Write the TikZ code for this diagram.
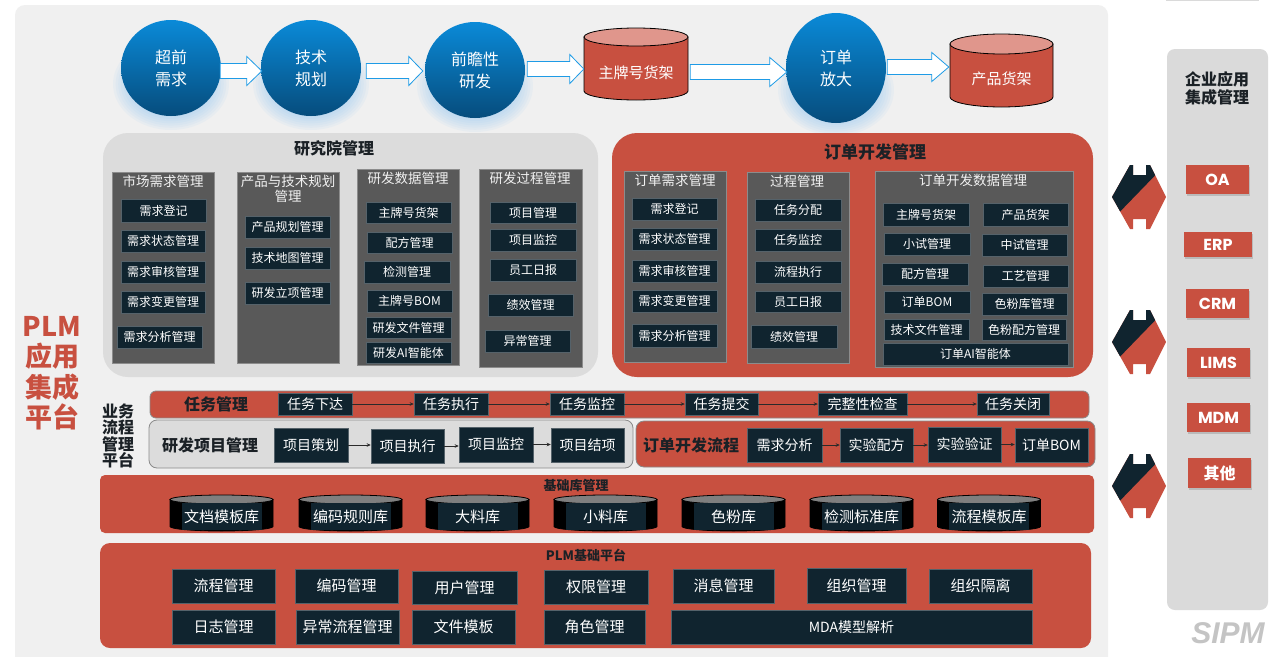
\documentclass[tikz,border=0pt]{standalone}
\usepackage{fontspec}
\setmainfont{Noto Sans CJK SC}
\newfontfamily\sipmfont{Liberation Sans}
\newfontfamily\popfont{Poppins}
\usetikzlibrary{arrows.meta,calc,shapes.geometric,shadows}
\definecolor{bgc}{HTML}{F0F0F0}
\definecolor{redc}{HTML}{C85040}
\definecolor{navy}{HTML}{10242F}
\definecolor{dgray}{HTML}{595959}
\definecolor{lgray}{HTML}{DCDCDC}
\definecolor{sideg}{HTML}{DADADA}
\definecolor{txtd}{HTML}{1B2126}
\definecolor{blueT}{HTML}{0A8AD8}
\definecolor{blueB}{HTML}{064C7C}
\definecolor{glowc}{HTML}{7DC0F2}
\definecolor{arrb}{HTML}{1E9BE6}
\definecolor{capred}{HTML}{E0968C}
\definecolor{capgray}{HTML}{7F7F7F}
\definecolor{itmb}{HTML}{55626A}
\definecolor{colb}{HTML}{8C8C8C}
\definecolor{coltxt}{HTML}{F2F2F2}
\definecolor{bandb}{HTML}{8A8A8A}
\definecolor{connc}{HTML}{2A2A2A}
\definecolor{sipmc}{HTML}{C4C4C4}
\newcommand{\fsz}[2]{\fontsize{#1}{#2}\selectfont}
\tikzset{
  itm/.style={fill=navy, draw=itmb, line width=0.5, text=white, inner sep=0, font=\fsz{12}{14}},
  bt/.style={font=\fsz{14}{16}},
  bb/.style={font=\fsz{15}{17}},
  coltitle/.style={text=coltxt, font=\fsz{13.5}{14.5}, align=center, inner sep=0},
  colst/.style={fill=dgray, draw=colb, line width=0.6},
  circ/.style={ellipse, minimum width=100, minimum height=96, inner sep=0, top color=blueT, bottom color=blueB, text=white, font=\fsz{16}{22}, align=center},
  cyltxt/.style={inner sep=0, text=white, font=\fsz{15}{17}},
  barrow/.style={fill=white, draw=arrb, line width=0.8},
  ptitle/.style={text=txtd, font=\bfseries\fsz{16}{18}, inner sep=0},
  bandr/.style={fill=redc, draw=bandb, line width=0.8, rounded corners=6},
  bandg/.style={fill=lgray, draw=bandb, line width=0.8, rounded corners=8},
  bandlbl/.style={text=txtd, font=\bfseries\fsz{16}{18}, inner sep=0},
  conn/.style={-{Stealth[length=4pt,width=3.5pt]}, line width=0.6, draw=connc},
  sideb/.style={fill=redc, text=white, font=\popfont\bfseries\fsz{16}{18}, inner sep=0,
    drop shadow={shadow xshift=1pt, shadow yshift=-1.5pt, opacity=0.35}},
}
\newcommand{\itm}[7][]{\node[itm,#1,minimum width={#5-#3},minimum height={#6-#4}] (#2) at ({(#3+#5)/2},{(#4+#6)/2}) {#7};}
\newcommand{\cylshape}[7]{%
  \filldraw[fill=#6,draw=black,line width=0.8] ({#1-#3/2},{#2+#5}) -- ({#1-#3/2},{#2+#4-#5}) arc[start angle=180,end angle=0,x radius={#3/2},y radius={#5}] -- ({#1+#3/2},{#2+#5}) -- cycle;
  \filldraw[fill=#7,draw=black,line width=0.8] (#1,{#2+#5}) ellipse[x radius={#3/2},y radius={#5}];}
\newcommand{\blockarrow}[3]{%
  \filldraw[barrow] ($(#1)+(0,7.5)$) -- ($(#1)+(0,-7.5)$) -- ($(#2|-#1)+(-#3,-7.5)$) -- ($(#2|-#1)+(-#3,-14.5)$) -- (#2|-#1) -- ($(#2|-#1)+(-#3,14.5)$) -- ($(#2|-#1)+(-#3,7.5)$) -- cycle;}
\newcommand{\libcyl}[3]{%
  \cylshape{#2}{495}{103}{36}{4.5}{black}{capgray}
  \node[itm, draw=none, minimum width=80, minimum height=27, font=\fsz{15}{17}] (#1) at (#2,516.5) {#3};}
\newcommand{\dblarrow}[1]{%
  \begin{scope}[shift={(1139,#1)}]
    \begin{scope}
    \clip (-27,0) -- (-9,-32) -- (-6,-32) -- (-6,-22) -- (7,-22) -- (7,-32) -- (11,-32) -- (27,0) -- (11,32) -- (7,32) -- (7,22) -- (-6,22) -- (-6,32) -- (-9,32) -- cycle;
    \fill[redc] (-30,-40) rectangle (30,40);
    \fill[navy] (-30,26) -- (30,-36) -- (30,-40) -- (-30,-40) -- cycle;
    \end{scope}
  \end{scope}}
\newcommand{\glow}[2]{%
  \foreach \k in {0,...,13} {\fill[glowc, fill opacity=0.07] (#1,{#2+16}) ellipse[x radius={58-2.6*\k}, y radius={46-2.2*\k}];}}
\begin{document}
\begin{tikzpicture}[x=1pt,y=-1pt]
\useasboundingbox (0,0) rectangle (1269,656);
\fill[white] (0,0) rectangle (1269,656);
\fill[bgc, rounded corners=10] (15,5) rectangle (1108,690);
\fill[sideg] (1166,-2) rectangle (1259,1.2);

% glows
\glow{171}{68}
\glow{311}{68}
\glow{475}{70}
\glow{836}{74}

% top flow
\node[circ] (c1) at (171,68) {超前\\需求};
\node[circ] (c2) at (311,68) {技术\\规划};
\node[circ] (c3) at (475,70) {前瞻性\\研发};
\node[circ, minimum height=110] (c4) at (836,68) {订单\\放大};
\cylshape{636}{28}{104}{72}{9}{redc}{capred}
\node[cyltxt, minimum width=104, minimum height=54] (m1) at (636,73) {主牌号货架};
\cylshape{1001.5}{34}{103}{73}{10}{redc}{capred}
\node[cyltxt, minimum width=103, minimum height=53] (m2) at (1001.5,79) {产品货架};

\coordinate (a1s) at ($(c1.east)+(-1,3)$); \coordinate (a1t) at ($(c2.west)+(1,3)$);
\blockarrow{a1s}{a1t}{15}
\coordinate (a2s) at ($(c2.east)+(5,3)$); \coordinate (a2t) at ($(c3.west)+(-2,1)$);
\blockarrow{a2s}{a2t}{14}
\coordinate (a3s) at ($(c3.east)+(2,-1)$); \coordinate (a3t) at ($(m1.west)+(0,-4)$);
\blockarrow{a3s}{a3t}{14}
\coordinate (a4s) at ($(m1.east)+(2,-1)$); \coordinate (a4t) at ($(c4.west)+(1,4)$);
\blockarrow{a4s}{a4t}{17}
\coordinate (a5s) at ($(c4.east)+(1,-1)$); \coordinate (a5t) at ($(m2.west)+(-1,-12)$);
\blockarrow{a5s}{a5t}{17}

% research institute panel
\fill[lgray, rounded corners=25] (103,133) rectangle (598,377);
\node[ptitle] (rt) at (334,148) {研究院管理};
\draw[colst] (112,172) rectangle (214,363);
\node[coltitle] (ct1) at (163,181) {市场需求管理};
\itm{r1a}{121}{199}{206}{222}{需求登记}
\itm{r1b}{121}{230}{205}{252}{需求状态管理}
\itm{r1c}{121}{261}{205}{283}{需求审核管理}
\itm{r1d}{121}{291}{205}{313}{需求变更管理}
\itm{r1e}{117}{326}{202}{348}{需求分析管理}
\draw[colst] (237,172) rectangle (339,363);
\node[coltitle] (ct2) at (288,189) {产品与技术规划\\管理};
\itm{r2a}{245}{216}{330}{238}{产品规划管理}
\itm{r2b}{245}{247}{330}{269}{技术地图管理}
\itm{r2c}{245}{282}{330}{304}{研发立项管理}
\draw[colst] (357,169) rectangle (459,365);
\node[coltitle] (ct3) at (408,178) {研发数据管理};
\itm{r3a}{366}{202}{451}{223}{主牌号货架}
\itm{r3b}{367}{232}{452}{253}{配方管理}
\itm{r3c}{364}{261}{450}{283}{检测管理}
\itm{r3d}{367}{290}{452}{312}{主牌号BOM}
\itm{r3e}{366}{317}{451}{338}{研发文件管理}
\itm{r3f}{366}{342}{451}{363}{研发AI智能体}
\draw[colst] (479,169) rectangle (582,367);
\node[coltitle] (ct4) at (530,178) {研发过程管理};
\itm{r4a}{490}{202}{576}{223}{项目管理}
\itm{r4b}{490}{229}{576}{251}{项目监控}
\itm{r4c}{490}{259}{576}{281}{员工日报}
\itm{r4d}{488}{294}{573}{316}{绩效管理}
\itm{r4e}{485}{330}{570}{352}{异常管理}

% order development panel
\fill[redc, rounded corners=25] (612,133) rectangle (1093,377);
\node[ptitle, font=\bfseries\fsz{17}{19}] (ot) at (875,152) {订单开发管理};
\draw[colst] (624,171) rectangle (726,362);
\node[coltitle] (oc1) at (675,180) {订单需求管理};
\itm{o1a}{632}{198}{717}{220}{需求登记}
\itm{o1b}{632}{228}{717}{250}{需求状态管理}
\itm{o1c}{632}{260}{717}{282}{需求审核管理}
\itm{o1d}{632}{290}{717}{312}{需求变更管理}
\itm{o1e}{632}{324}{717}{347}{需求分析管理}
\draw[colst] (747,172) rectangle (849,363);
\node[coltitle] (oc2) at (797,181) {过程管理};
\itm{o2a}{755}{199}{841}{221}{任务分配}
\itm{o2b}{755}{229}{841}{251}{任务监控}
\itm{o2c}{755}{261}{841}{283}{流程执行}
\itm{o2d}{755}{291}{841}{312}{员工日报}
\itm{o2e}{751}{325}{837}{348}{绩效管理}
\draw[colst] (875,171) rectangle (1073,367);
\node[coltitle] (oc3) at (973,180) {订单开发数据管理};
\itm{o3a}{883}{203}{969}{226}{主牌号货架}
\itm{o3b}{983}{203}{1068}{226}{产品货架}
\itm{o3c}{884}{233}{970}{255}{小试管理}
\itm{o3d}{982}{234}{1067}{256}{中试管理}
\itm{o3e}{882}{263}{968}{285}{配方管理}
\itm{o3f}{983}{265}{1068}{287}{工艺管理}
\itm{o3g}{884}{291}{970}{313}{订单BOM}
\itm{o3h}{982}{293}{1067}{315}{色粉库管理}
\itm{o3i}{884}{319}{969}{340}{技术文件管理}
\itm{o3j}{982}{319}{1066}{340}{色粉配方管理}
\itm{o3k}{883}{343}{1068}{365}{订单AI智能体}

% left labels
\node[text=redc, font=\bfseries\fsz{27}{30.5}, align=center, inner sep=0] (plm) at (52,373) {PLM\\应用\\集成\\平台};
\node[text=txtd, font=\bfseries\fsz{16}{16.5}, align=center, inner sep=0] (bpm) at (118,436) {业务\\流程\\管理\\平台};

% task band
\draw[bandr] (150,391) rectangle (1089,418);
\node[bandlbl] (tm) at (216,404) {任务管理};
\itm[bt]{t1}{278}{393}{352}{415}{任务下达}
\itm[bt]{t2}{414}{393}{488}{415}{任务执行}
\itm[bt]{t3}{550}{393}{624}{415}{任务监控}
\itm[bt]{t4}{685}{393}{758}{415}{任务提交}
\itm[bt]{t5}{818}{393}{907}{415}{完整性检查}
\itm[bt]{t6}{977}{393}{1049}{415}{任务关闭}
\foreach \a/\b in {t1/t2,t2/t3,t3/t4,t4/t5,t5/t6} {\draw[conn] (\a.east) -- (\a.east -| \b.west);}

% R&D project band
\draw[bandg] (149,420) rectangle (633,468);
\node[bandlbl] (pm) at (210,445) {研发项目管理};
\itm[bt]{p1}{274}{428}{348}{462}{项目策划}
\itm[bt]{p2}{371}{429}{444}{463}{项目执行}
\itm[bt]{p3}{459}{427}{533}{462}{项目监控}
\itm[bt]{p4}{551}{428}{624}{462}{项目结项}
\foreach \a/\b in {p1/p2,p2/p3,p3/p4} {\draw[conn] (\a.east) -- (\a.east -| \b.west);}

% order flow band
\draw[bandr, rounded corners=8] (636,421) rectangle (1095,467);
\node[bandlbl] (of) at (691,445) {订单开发流程};
\itm[bt]{q1}{747}{428}{822}{462}{需求分析}
\itm[bt]{q2}{840}{428}{913}{462}{实验配方}
\itm[bt]{q3}{928}{427}{1001}{462}{实验验证}
\itm[bt]{q4}{1015}{428}{1088}{462}{订单BOM}
\foreach \a/\b in {q1/q2,q2/q3,q3/q4} {\draw[conn] (\a.east) -- (\a.east -| \b.west);}

% base library band
\fill[redc, rounded corners=5] (100,475) rectangle (1094,533);
\node[ptitle, font=\bfseries\fsz{13}{15}] (lib) at (576,486) {基础库管理};
\libcyl{l1}{221.5}{文档模板库}
\libcyl{l2}{350.5}{编码规则库}
\libcyl{l3}{477.5}{大料库}
\libcyl{l4}{605.5}{小料库}
\libcyl{l5}{733.5}{色粉库}
\libcyl{l6}{861.5}{检测标准库}
\libcyl{l7}{989}{流程模板库}

% PLM base platform
\fill[redc, rounded corners=10] (100,543) rectangle (1091,648);
\node[ptitle, font=\bfseries\fsz{13}{15}] (pb) at (586,555) {PLM基础平台};
\itm[bb]{b1}{172}{569}{275}{603}{流程管理}
\itm[bb]{b2}{295}{569}{398}{603}{编码管理}
\itm[bb]{b3}{412}{571}{517}{604}{用户管理}
\itm[bb]{b4}{544}{570}{648}{604}{权限管理}
\itm[bb]{b5}{673}{569}{774}{603}{消息管理}
\itm[bb]{b6}{807}{568}{906}{603}{组织管理}
\itm[bb]{b7}{929}{569}{1032}{603}{组织隔离}
\itm[bb]{b8}{172}{610}{275}{644}{日志管理}
\itm[bb]{b9}{296}{610}{399}{644}{异常流程管理}
\itm[bb]{b10}{412}{610}{515}{644}{文件模板}
\itm[bb]{b11}{544}{610}{645}{644}{角色管理}
\itm[font=\fsz{14}{16}]{b12}{671}{610}{1032}{644}{MDA模型解析}

% double arrows
\dblarrow{197}
\dblarrow{342}
\dblarrow{486}

% sidebar
\fill[sideg, rounded corners=8] (1167,49) rectangle (1268,610);
\node[text=txtd, font=\bfseries\fsz{16}{18}, align=center, inner sep=0] (side) at (1217,88) {企业应用\\集成管理};
\node[sideb, minimum width=63, minimum height=29] (s1) at (1217.5,179.5) {OA};
\node[sideb, minimum width=68, minimum height=25] (s2) at (1218,244.5) {ERP};
\node[sideb, minimum width=63, minimum height=29] (s3) at (1217.5,303.5) {CRM};
\node[sideb, minimum width=63, minimum height=29] (s4) at (1218.5,362.5) {LIMS};
\node[sideb, minimum width=63, minimum height=29] (s5) at (1218.5,417.5) {MDM};
\node[sideb, font=\bfseries\fsz{16}{18}, minimum width=63, minimum height=30] (s6) at (1219.5,473) {其他};

\node[text=sipmc, font=\sipmfont\bfseries\itshape\fsz{30}{32}, inner sep=0] (sipm) at (1228,633) {SIPM};
\end{tikzpicture}
\end{document}
